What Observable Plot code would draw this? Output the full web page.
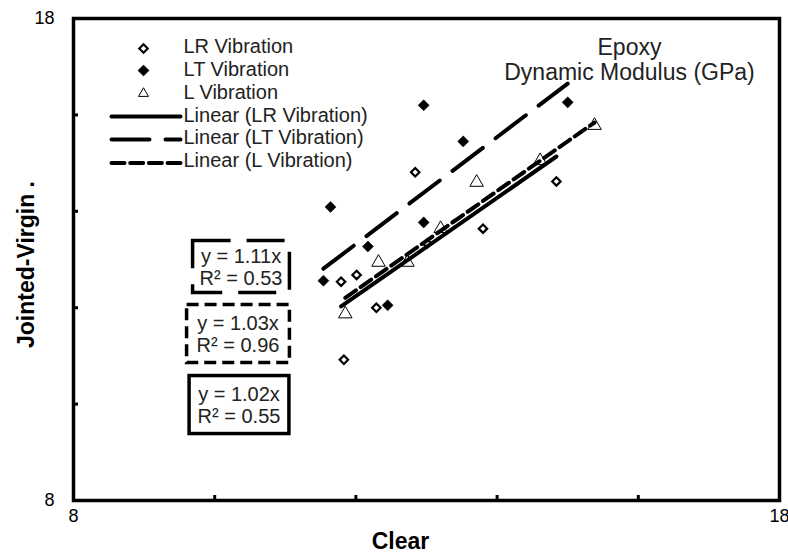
<!DOCTYPE html>
<html><head><meta charset="utf-8">
<script src="https://cdn.jsdelivr.net/npm/d3@7"></script>
<script src="https://cdn.jsdelivr.net/npm/@observablehq/plot@0.6"></script>
<style>
html,body{margin:0;padding:0;background:#fff;}
#chart svg{display:block;}
</style></head><body><div id="chart"></div>
<script>
// ---- data ----
const lrX = [12.84, 14.84, 13.80, 13.01, 11.79, 12.01, 12.29, 11.83];
const lrY = [14.81, 14.62, 13.64, 13.33, 12.54, 12.68, 12.00, 10.92];
const ltX = [12.96, 15.00, 13.52, 11.64, 12.96, 12.17, 11.54, 12.45];
const ltY = [16.20, 16.26, 15.45, 14.09, 13.77, 13.27, 12.56, 12.05];
const lX = [15.38, 14.61, 13.71, 13.20, 12.73, 12.32, 11.85];
const lY = [15.78, 15.05, 14.60, 13.64, 12.94, 12.94, 11.87];
const seriesNames = ["LR Vibration", "LT Vibration", "L Vibration"];
const slopes = [1.02, 1.11, 1.03];      // LR, LT, L
const rSquared = [0.55, 0.53, 0.96];    // LR, LT, L
const xTicks = [8, 10, 12, 14, 16, 18];
const yTicks = [8, 10, 12, 14, 16, 18];
const labelTicks = [8, 18];
const legendLabels = ["LR Vibration", "LT Vibration", "L Vibration",
  "Linear (LR Vibration)", "Linear (LT Vibration)", "Linear (L Vibration)"];
const titleLines = ["Epoxy", "Dynamic Modulus (GPa)"];
const xTitle = "Clear";
const yTitle = "Jointed-Virgin .";

// ---- layout / styles ----
const W = 788, H = 554;
const M = {top: 18, right: 9, bottom: 54, left: 73};
const innerW = W - M.left - M.right;
const innerH = H - M.top - M.bottom;
const tickLen = 5;
const font = "'Liberation Sans', Arial, sans-serif";
const dashLT = "38,16";
const dashL = "13,5.7";

const pts = (xs, ys, s) => xs.map((x, i) => ({x, y: ys[i], series: s}));
const lr = pts(lrX, lrY, seriesNames[0]);
const lt = pts(ltX, ltY, seriesNames[1]);
const ll = pts(lX, lY, seriesNames[2]);
const trend = (xs, k, s) => d3.extent(xs).map(x => ({x, y: k * x, series: s}));
const trLR = trend(lrX, slopes[0], seriesNames[0]);
const trLT = trend(ltX, slopes[1], seriesNames[1]);
const trL = trend(lX, slopes[2], seriesNames[2]);
const eqLine1 = i => `y = ${slopes[i].toFixed(2)}x`;
const eq = i => `${eqLine1(i)}\nR² = ${rSquared[i].toFixed(2)}`;

const lineShape = {draw(context, l) { context.moveTo(0, 0); context.lineTo(0, -l); }};
const legendLine = (dy, dash) => Plot.vector([0], {
  frameAnchor: "top-left", dx: 38, dy, length: 69, rotate: 90, anchor: "start",
  shape: lineShape, stroke: "black", strokeWidth: 4, strokeDasharray: dash
});
const eqText = (i, dx, dy) => Plot.text([eq(i)], {text: d => d, frameAnchor: "top-left", dx, dy,
  textAnchor: "middle", lineAnchor: "middle", lineHeight: 1.1, fontSize: 20, fill: "#222"});

const chart = Plot.plot({
  width: W, height: H,
  marginTop: M.top, marginRight: M.right, marginBottom: M.bottom, marginLeft: M.left,
  style: {fontFamily: font, color: "black", background: "white", overflow: "visible"},
  x: {domain: [8, 18]},
  y: {domain: [8, 18]},
  marks: [
    // inward tick marks
    Plot.tickX(xTicks, {x: d => d, stroke: "black", strokeWidth: 3, insetTop: innerH - tickLen}),
    Plot.tickY(yTicks, {y: d => d, stroke: "black", strokeWidth: 3, insetRight: innerW - tickLen}),
    Plot.axisX(labelTicks, {tickSize: 0, tickPadding: 9, fontSize: 18, label: null}),
    Plot.axisY(labelTicks, {tickSize: 0, tickPadding: 19, fontSize: 18, label: null}),
    Plot.frame({stroke: "black", strokeWidth: 3.5}),
    // data points
    Plot.dot(lt, {x: "x", y: "y", symbol: "diamond2", r: 5, fill: "black", stroke: "black", strokeWidth: 0.5}),
    Plot.dot(lr, {x: "x", y: "y", symbol: "diamond2", r: 3.8, fill: "white", stroke: "black", strokeWidth: 2.2}),
    Plot.dot(ll, {x: "x", y: "y", symbol: "triangle", r: 5, fill: "white", stroke: "black", strokeWidth: 1}),
    // trend lines (through origin)
    Plot.line(trLR, {x: "x", y: "y", stroke: "black", strokeWidth: 4}),
    Plot.line(trLT, {x: "x", y: "y", stroke: "black", strokeWidth: 4, strokeDasharray: dashLT}),
    Plot.line(trL, {x: "x", y: "y", stroke: "black", strokeWidth: 4, strokeDasharray: dashL}),
    // legend
    Plot.dot([0], {frameAnchor: "top-left", dx: 70, dy: 30, symbol: "diamond2", r: 3.8, fill: "white", stroke: "black", strokeWidth: 2.2}),
    Plot.dot([0], {frameAnchor: "top-left", dx: 70, dy: 52, symbol: "diamond2", r: 5, fill: "black", stroke: "black", strokeWidth: 0.5}),
    Plot.dot([0], {frameAnchor: "top-left", dx: 70, dy: 75, symbol: "triangle", r: 3.7, fill: "white", stroke: "black", strokeWidth: 1}),
    legendLine(98, null),
    legendLine(121, dashLT),
    legendLine(144.6, dashL),
    Plot.text([legendLabels.join("\n")], {text: d => d, frameAnchor: "top-left", dx: 110, dy: 18.6,
      textAnchor: "start", lineAnchor: "top", lineHeight: 1.14, fontSize: 20, fill: "#222"}),
    // title
    Plot.text([titleLines.join("\n")], {text: d => d, frameAnchor: "top-left", dx: 556, dy: 41,
      textAnchor: "middle", lineAnchor: "middle", lineHeight: 1.09, fontSize: 23, fill: "#222"}),
    // equation labels
    eqText(1, 167.5, 248),
    eqText(2, 164.5, 315),
    eqText(0, 165.5, 386),
    // axis titles
    Plot.text([xTitle], {text: d => d, frameAnchor: "bottom", dx: -26, dy: 41, lineAnchor: "middle",
      fontSize: 23, fontWeight: "bold", fill: "black"}),
    Plot.text([yTitle], {text: d => d, frameAnchor: "left", dx: -47, dy: 5, rotate: -90,
      textAnchor: "middle", lineAnchor: "middle", fontSize: 23, fontWeight: "bold", fill: "black"})
  ]
});
document.getElementById("chart").appendChild(chart);

// boxes around the equation labels
const boxes = [
  {start: eqLine1(1), dash: dashLT, padX: 7, padY: 4},
  {start: eqLine1(2), dash: "12,6", padX: 10, padY: 7},
  {start: eqLine1(0), dash: null, padX: 8.5, padY: 7}
];
const svgBox = chart.getBoundingClientRect();
const texts = Array.from(chart.querySelectorAll("text"));
for (const b of boxes) {
  const t = texts.find(t => t.textContent.startsWith(b.start));
  if (!t) continue;
  const cr = t.getBoundingClientRect();
  let top = t;
  while (top.parentNode && top.parentNode !== chart) top = top.parentNode;
  const r = document.createElementNS("http://www.w3.org/2000/svg", "rect");
  r.setAttribute("x", cr.left - svgBox.left - b.padX);
  r.setAttribute("y", cr.top - svgBox.top - b.padY);
  r.setAttribute("width", cr.width + 2 * b.padX);
  r.setAttribute("height", cr.height + 2 * b.padY);
  r.setAttribute("fill", "white");
  r.setAttribute("stroke", "black");
  r.setAttribute("stroke-width", 3.5);
  if (b.dash) r.setAttribute("stroke-dasharray", b.dash);
  chart.insertBefore(r, top);
}
</script>
</body></html>
